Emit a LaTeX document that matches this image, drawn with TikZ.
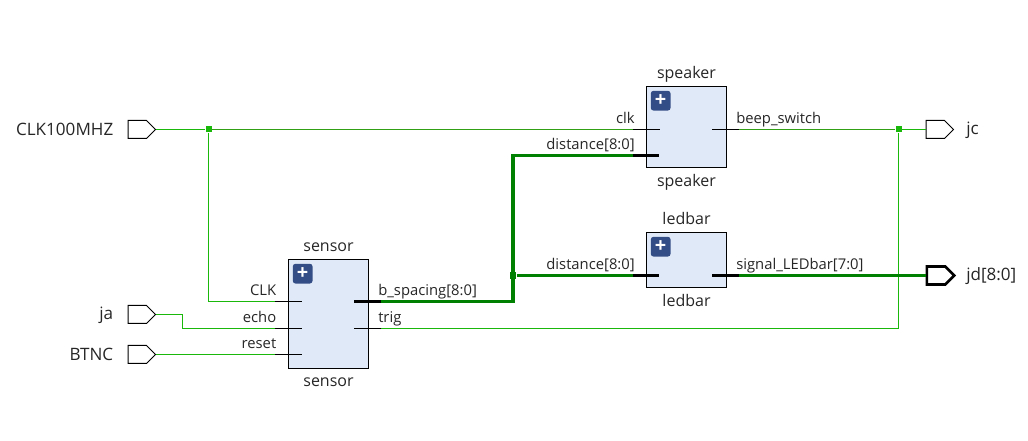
\documentclass[tikz,border=0pt]{standalone}
\usepackage{fontspec}
\setmainfont{Open Sans}
\usepackage{xcolor}
\usetikzlibrary{positioning,shapes.symbols}
\definecolor{netgreen}{RGB}{25,184,10}
\definecolor{clkgreen}{RGB}{50,160,20}
\definecolor{busgreen}{RGB}{0,128,0}
\definecolor{blockfill}{RGB}{223,233,247}
\definecolor{plusfill}{RGB}{51,77,134}
\tikzset{%
	block/.style    = {draw, rectangle, fill=blockfill, line width=0.75pt, minimum width=60pt, inner sep=0pt},
	blockname/.style = {font=\fontsize{12}{14}\selectfont, text=black!85, inner sep=3.6pt, text height=9.9pt, text depth=1.9pt},
	plus/.style     = {rectangle, rounded corners=2pt, fill=plusfill, text=white, minimum size=14.8pt, inner sep=0pt, font=\fontsize{15}{15}\bfseries\selectfont},
	port/.style     = {draw, signal, signal to=east, signal pointer angle=90, minimum width=20.6pt, minimum height=13.5pt, inner sep=0pt, line width=0.75pt},
	busport/.style  = {port, line width=2pt},
	portname/.style = {font=\fontsize{12.8}{15}\selectfont, text=black!85, inner sep=0pt},
	pinname/.style  = {font=\fontsize{11.1}{13}\selectfont, text=black!85, inner sep=0pt, text height=8pt, text depth=3pt},
	waypoint/.style = {coordinate},
	pin/.style      = {line width=0.75pt},
	buspin/.style   = {line width=2.4pt},
	net/.style      = {netgreen, line width=0.75pt},
	clknet/.style   = {clkgreen, line width=0.75pt},
	bus/.style      = {busgreen, line width=2.3pt},
	dot/.style      = {rectangle, fill=netgreen, minimum size=4.5pt, inner sep=0pt},
	busdot/.style   = {rectangle, fill=busgreen, minimum size=5.2pt, inner sep=0pt},
}
\begin{document}
\begin{tikzpicture}[x=0.75pt,y=-0.75pt]
	\useasboundingbox (0,0) rectangle (1028,441);

	% top level ports
	\node[port,anchor=west] (clk100) at (127.5,129.5) {};
	\node[port,anchor=west] (ja) at (127.5,314.5) {};
	\node[port,anchor=west] (btnc) at (127.5,354.5) {};
	\node[port,anchor=west] (jc) at (925.5,129.5) {};
	\node[busport,anchor=west] (jd) at (925.5,275.5) {};
	\node[portname,anchor=east] (clk100name) at (113.5,129.5) {CLK100MHZ};
	\node[portname,anchor=east] (janame) at (113.5,315.5) {ja};
	\node[portname,anchor=east] (btncname) at (113.5,354.5) {BTNC};
	\node[portname,anchor=west] (jcname) at (966,130) {jc};
	\node[portname,anchor=west] (jdname) at (966,276) {jd[8:0]};

	% modules
	\node[block,minimum height=81.4pt,label={[blockname]above:sensor},label={[blockname]below:sensor}] (sensor) at (328.5,313.75) {};
	\node[block,minimum height=61.1pt,label={[blockname]above:speaker},label={[blockname]below:speaker}] (speaker) at (686.5,127.25) {};
	\node[block,minimum height=41.6pt,label={[blockname]above:ledbar},label={[blockname]below:ledbar}] (ledbar) at (686.5,260.25) {};
	\node[plus,below right=3.4pt and 3.4pt of sensor.north west] (plus1) {+};
	\node[plus,below right=3.4pt and 3.4pt of speaker.north west] (plus2) {+};
	\node[plus,below right=3.4pt and 3.4pt of ledbar.north west] (plus3) {+};

	% pins, outer and inner end
	\node[waypoint] (s1) at (275,301.5) {};
	\node[waypoint] (s1i) at (302,301.5) {};
	\node[waypoint] (s2) at (275,328.5) {};
	\node[waypoint] (s2i) at (302,328.5) {};
	\node[waypoint] (s3) at (275,354.5) {};
	\node[waypoint] (s3i) at (302,354.5) {};
	\node[waypoint] (s4) at (381,301.5) {};
	\node[waypoint] (s4i) at (354,301.5) {};
	\node[waypoint] (s5) at (381,328.5) {};
	\node[waypoint] (s5i) at (354,328.5) {};
	\node[waypoint] (sp1) at (633,129.5) {};
	\node[waypoint] (sp1i) at (660,129.5) {};
	\node[waypoint] (sp2) at (633,155.5) {};
	\node[waypoint] (sp2i) at (659,155.5) {};
	\node[waypoint] (sp3) at (739,129.5) {};
	\node[waypoint] (sp3i) at (712,129.5) {};
	\node[waypoint] (l1) at (633,275.5) {};
	\node[waypoint] (l1i) at (659,275.5) {};
	\node[waypoint] (l2) at (739,275.5) {};
	\node[waypoint] (l2i) at (712,275.5) {};

	\draw[pin] (s1) -- (s1i);
	\draw[pin] (s2) -- (s2i);
	\draw[pin] (s3) -- (s3i);
	\draw[buspin] (s4) -- (s4i);
	\draw[pin] (s5) -- (s5i);
	\draw[pin] (sp1) -- (sp1i);
	\draw[buspin] (sp2) -- (sp2i);
	\draw[pin] (sp3) -- (sp3i);
	\draw[buspin] (l1) -- (l1i);
	\draw[buspin] (l2) -- (l2i);

	% pin names
	\node[pinname,anchor=south east] (s1name) at (276.5,299.5) {CLK};
	\node[pinname,anchor=south east] (s2name) at (276.5,326.5) {echo};
	\node[pinname,anchor=south east] (s3name) at (276.5,352.5) {reset};
	\node[pinname,anchor=south west] (s4name) at (378,299.5) {b\_spacing[8:0]};
	\node[pinname,anchor=south west] (s5name) at (378,326.5) {trig};
	\node[pinname,anchor=south east] (sp1name) at (635,127.5) {clk};
	\node[pinname,anchor=south east] (sp2name) at (635,153.5) {distance[8:0]};
	\node[pinname,anchor=south west] (sp3name) at (736,127.5) {beep\_switch};
	\node[pinname,anchor=south east] (l1name) at (635,273.5) {distance[8:0]};
	\node[pinname,anchor=south west] (l2name) at (736,273.5) {signal\_LEDbar[7:0]};

	% bends and junctions
	\node[dot] (clkdot) at (208.5,129.5) {};
	\node[dot] (jcdot) at (898.5,129.5) {};
	\node[busdot] (busjoin) at (513,275.5) {};
	\node[waypoint] (jabend) at (182.5,314.5) {};

	\draw[net] (clk100.east) -- (clkdot);
	\draw[net] (clkdot) |- (s1);
	\draw[clknet] (clkdot) -- (sp1);
	\draw[net] (ja.east) -- (jabend) |- (s2);
	\draw[net] (btnc.east) -- (s3);
	\draw[clknet] (sp3) -- (jcdot);
	\draw[net] (jcdot) -- (jc.west);
	\draw[net] (s5) -| (jcdot);
	\draw[bus] (s4) -| (busjoin);
	\draw[bus] (busjoin) |- (sp2);
	\draw[bus] (busjoin) -- (l1);
	\draw[bus] (l2) -- (jd.west);
\end{tikzpicture}
\end{document}
